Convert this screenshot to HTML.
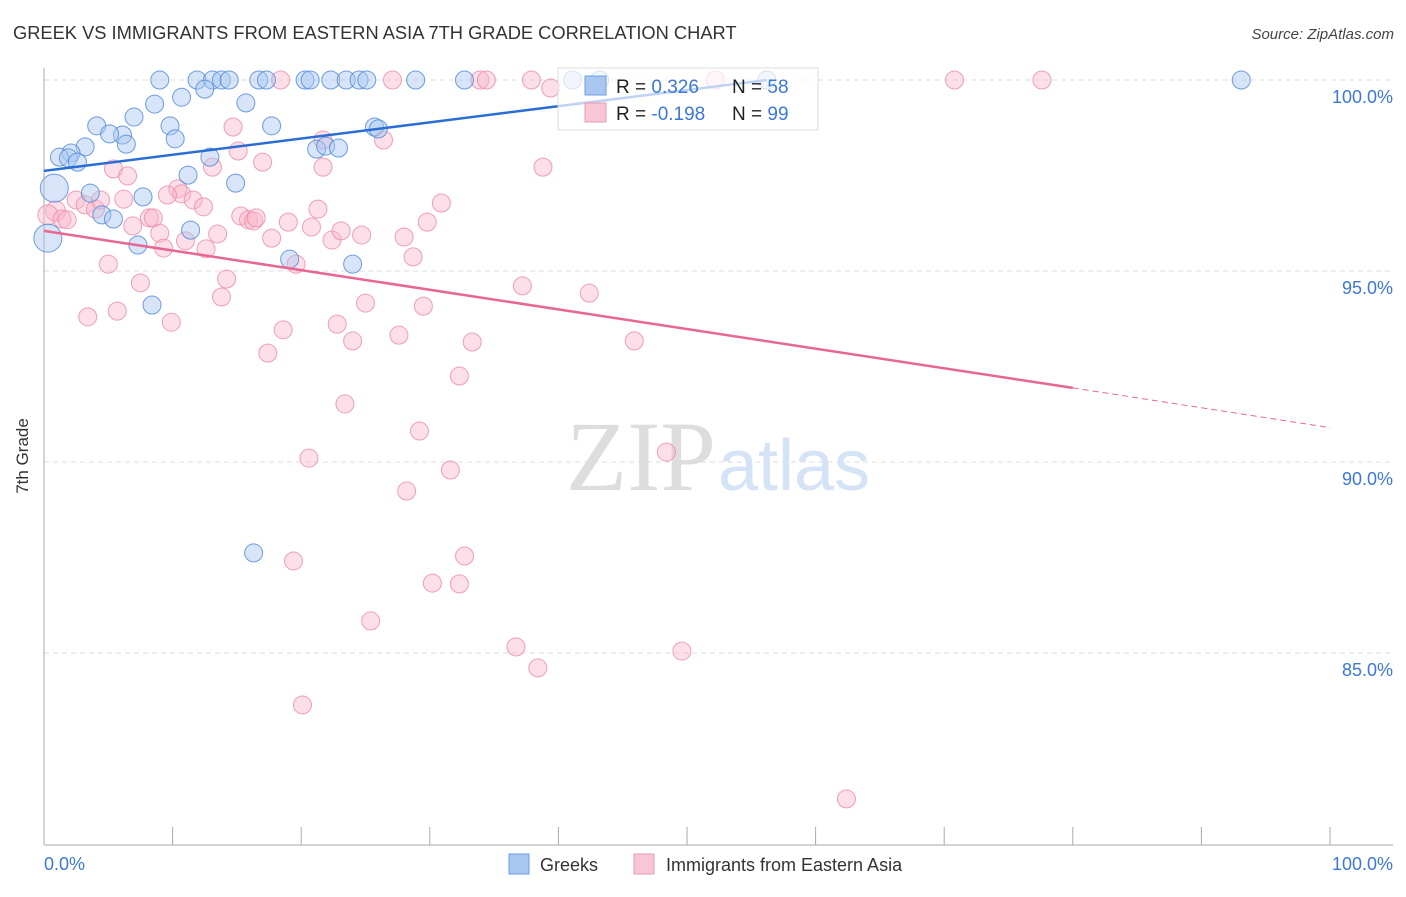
<!DOCTYPE html>
<html><head><meta charset="utf-8"><style>
body{margin:0;background:#fff;width:1406px;height:892px;overflow:hidden;font-family:"Liberation Sans",sans-serif}
</style></head><body>
<svg width="1406" height="892">
<text x="13" y="39" font-size="18.3" fill="#333">GREEK VS IMMIGRANTS FROM EASTERN ASIA 7TH GRADE CORRELATION CHART</text>
<text x="1394" y="39" font-size="15" fill="#444" font-style="italic" text-anchor="end">Source: ZipAtlas.com</text>
<g id="grid"></g>
<text x="716" y="490" font-size="100" font-family="Liberation Serif,serif" fill="#ddd" text-anchor="end">ZIP</text>
<text x="718" y="490" font-size="72" fill="#d4e3f5">atlas</text>
<line x1="44" y1="68" x2="44" y2="845" stroke="#aaa"/>
<line x1="44" y1="845" x2="1393" y2="845" stroke="#aaa"/>
<g id="ticks"></g>
<g id="pts"></g>
<g id="lines"></g>
<text x="28" y="456" font-size="17" fill="#333" transform="rotate(-90 28 456)" text-anchor="middle">7th Grade</text>
<text x="44" y="870" font-size="18" fill="#3b78d8">0.0%</text>
<text x="1393" y="870" font-size="18" fill="#3b78d8" text-anchor="end">100.0%</text>
<g>
<rect x="558" y="68" width="260" height="62" fill="#fff" fill-opacity="0.7" stroke="#ddd"/>
<rect x="585" y="76" width="21" height="19" fill="#a8c6ef" stroke="#6a9ee0"/>
<rect x="585" y="103" width="21" height="19" fill="#f8c6d4" stroke="#ee9ab2"/>
<text x="616" y="93" font-size="19" fill="#222">R = <tspan fill="#3b78d8"> 0.326</tspan><tspan x="732">N = </tspan><tspan fill="#3b78d8">58</tspan></text>
<text x="616" y="120" font-size="19" fill="#222">R = <tspan fill="#3b78d8">-0.198</tspan><tspan x="732">N = </tspan><tspan fill="#3b78d8">99</tspan></text>
</g>
<g>
<rect x="509" y="854" width="20" height="20" fill="#a8c6ef" stroke="#6a9ee0"/>
<text x="540" y="871" font-size="18" fill="#333">Greeks</text>
<rect x="634" y="854" width="20" height="20" fill="#f8c6d4" stroke="#ee9ab2"/>
<text x="666" y="871" font-size="18" fill="#333">Immigrants from Eastern Asia</text>
</g>
</svg>
<script>
const yTicks=[100,95,90,85];
const xTickCount=10;
const blueX=[9.0,11.9,13.1,13.8,14.4,16.7,17.3,20.3,20.7,22.3,23.5,24.5,25.1,28.9,32.7,41.1,43.2,56.2,93.1,12.5,10.7,8.6,15.7,7.0,4.1,9.8,17.7,6.1,5.1,10.2,6.4,3.2,2.1,1.2,1.9,2.6,12.9,21.2,21.9,22.9,25.7,26.0,11.2,14.9,0.8,3.6,7.7,4.5,5.4,11.4,0.3,7.3,19.1,24.0,8.4,16.3];
const blueY=[100,100,100,100,100,100,100,100,100,100,100,100,100,100,100,100,100,100,100,99.76,99.55,99.37,99.40,99.03,98.80,98.80,98.80,98.56,98.59,98.46,98.32,98.25,98.09,97.98,97.96,97.85,97.98,98.19,98.27,98.22,98.77,98.72,97.51,97.30,97.17,97.04,96.94,96.47,96.36,96.07,95.86,95.68,95.31,95.18,94.11,87.62];
const pinkX=[18.4,27.1,33.9,34.4,37.9,39.4,52.2,70.8,77.6,14.7,21.7,26.4,15.1,5.4,6.5,17.0,21.7,13.1,38.8,10.4,10.7,9.6,0.9,0.3,1.4,1.8,2.5,3.2,4.0,4.4,6.2,6.9,8.2,8.5,9.0,9.3,11.0,11.6,12.4,13.5,15.3,15.9,16.3,16.5,17.7,19.0,19.6,20.8,21.3,22.4,23.1,24.7,28.0,28.7,29.8,30.9,5.0,7.5,3.4,5.7,9.9,13.8,14.2,12.6,18.6,17.4,22.8,25.0,24.0,27.6,29.5,33.3,37.2,42.4,45.9,32.3,23.4,29.2,20.6,31.6,28.2,48.4,19.4,32.7,30.2,32.3,25.4,36.7,38.4,49.6,20.1,62.4];
const pinkY=[100,100,100,100,100,99.79,100,100,100,98.77,98.43,98.43,98.14,97.67,97.49,97.85,97.72,97.72,97.72,97.15,97.02,96.99,96.57,96.47,96.36,96.34,96.86,96.73,96.62,96.86,96.88,96.18,96.39,96.39,95.99,95.60,95.79,96.86,96.68,95.97,96.44,96.34,96.31,96.39,95.86,96.28,95.18,96.15,96.62,95.81,96.05,95.94,95.89,95.37,96.28,96.78,95.18,94.69,93.80,93.95,93.66,94.32,94.79,95.58,93.46,92.85,93.61,94.16,93.17,93.32,94.08,93.14,94.61,94.42,93.17,92.25,91.52,90.81,90.10,89.79,89.24,90.26,87.41,87.54,86.83,86.81,85.84,85.16,84.61,85.05,83.64,81.18];
const blueLine=[0,97.62,56.2,100];
const pinkLine=[0,96.05,80,91.94,100,90.9];
const NS='http://www.w3.org/2000/svg';
const sx=v=>44+v*12.86, sy=v=>80+(100-v)*38.2;
function mk(tag,attrs,parent){const e=document.createElementNS(NS,tag);for(const k in attrs)e.setAttribute(k,attrs[k]);document.getElementById(parent).appendChild(e);return e;}
yTicks.forEach(t=>{
 const l=mk('line',{x1:44,x2:1393,y1:sy(t),y2:sy(t),stroke:'#ddd','stroke-dasharray':'5,4'},'grid');
 
 
 const tx=mk('text',{x:1393,y:sy(t)+23,'font-size':18,fill:'#3b78d8','text-anchor':'end'},'grid');
 tx.textContent=t.toFixed(1)+'%';
 
 
});
for(let i=0;i<=xTickCount;i++){
 const l=mk('line',{x1:sx(i*10),x2:sx(i*10),y1:827,y2:845,stroke:'#aaa'},'ticks');
 
 
}
function pts(X,Y,fill,stroke,name){
 X.forEach((x,i)=>{
  const big=(x<1&&Y[i]<97.5&&Y[i]>95.5&&name==='greek-point')?14:(x<1?10:9);
  const c=mk('circle',{cx:sx(x),cy:sy(Y[i]),r:big,fill:fill,'fill-opacity':0.45,stroke:stroke,'stroke-opacity':0.8,'stroke-width':1},'pts');
  
  
 });
}
pts(pinkX,pinkY,'#f8b9cb','#ec8aa8','immigrant-point');
pts(blueX,blueY,'#a8c6ef','#4c86d8','greek-point');
let l=mk('line',{x1:sx(blueLine[0]),y1:sy(blueLine[1]),x2:sx(blueLine[2]),y2:sy(blueLine[3]),stroke:'#2a6dd4','stroke-width':2.5},'lines');


l=mk('line',{x1:sx(pinkLine[0]),y1:sy(pinkLine[1]),x2:sx(pinkLine[2]),y2:sy(pinkLine[3]),stroke:'#e86692','stroke-width':2.5},'lines');


l=mk('line',{x1:sx(pinkLine[2]),y1:sy(pinkLine[3]),x2:sx(pinkLine[4]),y2:sy(pinkLine[5]),stroke:'#e86692','stroke-width':1,'stroke-dasharray':'6,4'},'lines');


</script>
</body></html>
